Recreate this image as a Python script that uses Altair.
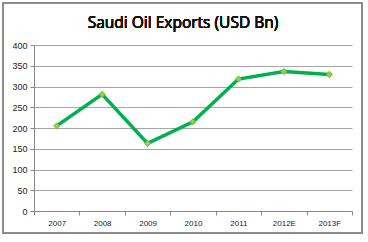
import altair as alt
import pandas as pd

years = ["2007", "2008", "2009", "2010", "2011", "2012E", "2013F"]
exports = [205, 281, 163, 215, 318, 336, 329]
y_ticks = [0, 50, 100, 150, 200, 250, 300, 350, 400]

df = pd.DataFrame({"year": years, "exports": exports})

W, H = 318, 166

base = alt.Chart(df).encode(
    x=alt.X("year:N", sort=years,
            scale=alt.Scale(paddingInner=0, paddingOuter=0),
            axis=alt.Axis(title=None, labelAngle=0, tickBand="extent",
                          labelFont="Liberation Sans", labelFontSize=8, labelColor="#222",
                          labelPadding=4, tickSize=4, domainColor="#888", tickColor="#888",
                          grid=False)),
    y=alt.Y("exports:Q",
            scale=alt.Scale(domain=[0, 400], nice=False),
            axis=alt.Axis(title=None, values=y_ticks, labelFont="Liberation Sans",
                          labelFontSize=9, labelColor="#222", labelPadding=3, tickSize=4,
                          domainColor="#888", tickColor="#888", gridColor="#a6a6a6",
                          gridWidth=1.2)),
)

line = base.mark_line(color="#00B050", strokeWidth=3.5)
pts = base.mark_point(shape="diamond", filled=True, size=40, color="#92D050",
                      stroke="#6aa82e", strokeWidth=0.8, opacity=1)

border = alt.Chart(df).mark_rect(fill=None, stroke="#8c8c8c", strokeWidth=1.2).encode(
    x=alt.value(-31), x2=alt.value(328), y=alt.value(-42), y2=alt.value(188)
)

title = alt.Chart(df).mark_text(font="Open Sans", fontSize=15.5, color="#111",
                                 align="center", baseline="alphabetic").encode(
    x=alt.value(149), y=alt.value(-17), text=alt.value("Saudi Oil Exports (USD Bn)")
)

chart = alt.layer(border, line, pts, title).properties(
    width=W, height=H,
    autosize=alt.AutoSizeParams(type="none"),
    padding={"left": 34, "top": 45, "right": 16, "bottom": 31},
    background="white",
).configure_view(stroke=None)

chart.save("out.html", embed_options={"renderer": "svg", "actions": False})
